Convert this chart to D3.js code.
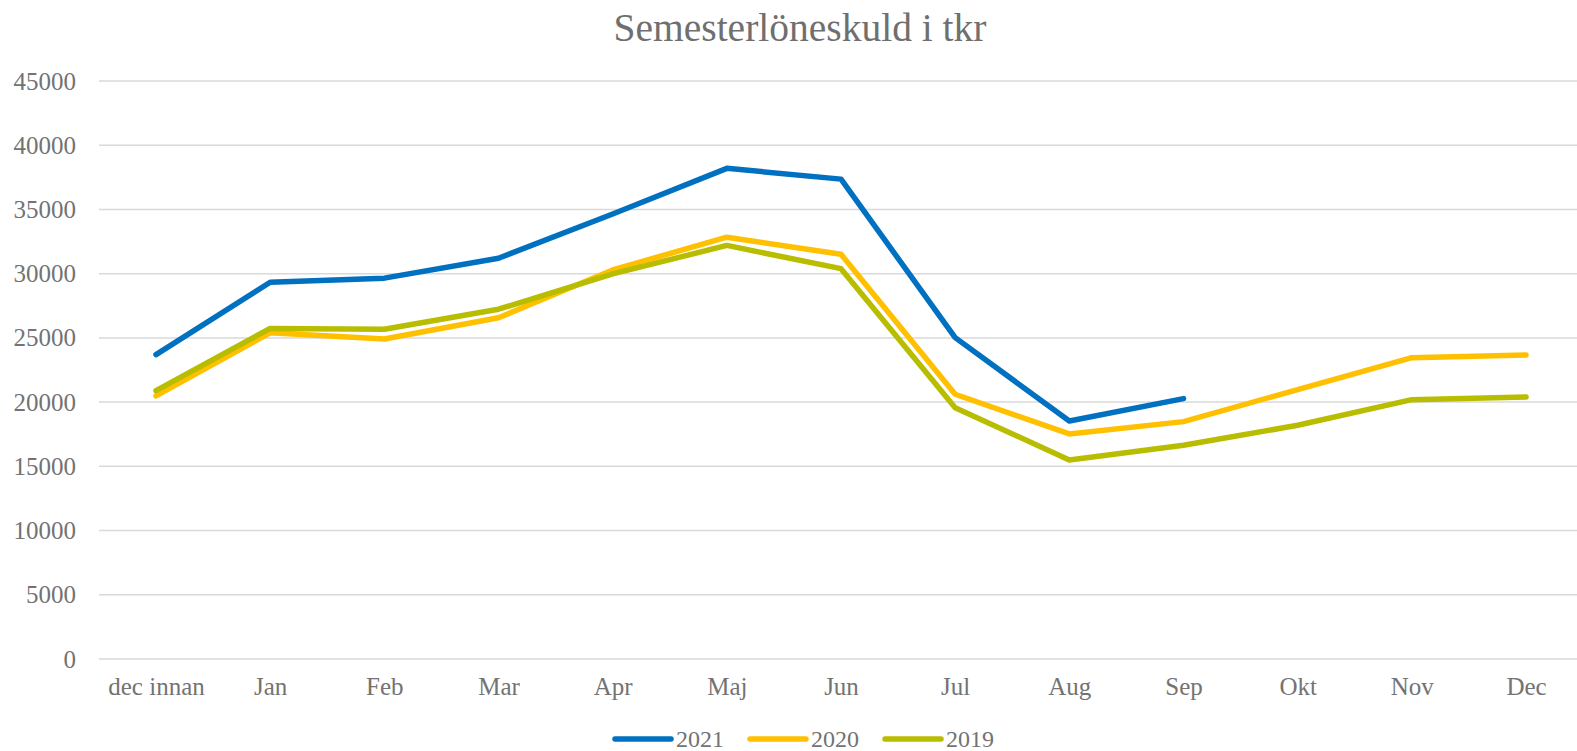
<!DOCTYPE html>
<html>
<head>
<meta charset="utf-8">
<script src="https://cdn.jsdelivr.net/npm/d3@7"></script>
<style>
  html, body { margin: 0; padding: 0; background: #fff; overflow: hidden; }
  svg { display: block; font-family: "Liberation Serif", "DejaVu Serif", serif; }
</style>
</head>
<body>
<svg id="chart"></svg>
<script>
const categories = ["dec innan", "Jan", "Feb", "Mar", "Apr", "Maj", "Jun", "Jul", "Aug", "Sep", "Okt", "Nov", "Dec"];
const values2021 = [23700, 29330, 29650, 31200, 34650, 38200, 37360, 25020, 18530, 20270, null, null, null];
const values2020 = [20480, 25400, 24910, 26570, 30290, 32840, 31510, 20610, 17520, 18480, 20980, 23460, 23670];
const values2019 = [20890, 25740, 25670, 27230, 29980, 32200, 30390, 19570, 15490, 16640, 18200, 20190, 20400];
const yTicks = [0, 5000, 10000, 15000, 20000, 25000, 30000, 35000, 40000, 45000];

const series = [
  { name: "2021", values: values2021, color: "#0070C0" },
  { name: "2020", values: values2020, color: "#FFC000" },
  { name: "2019", values: values2019, color: "#B8BD00" }
];

const width = 1577;
const height = 751;
const textColor = "#737373";

const svg = d3.select("#chart")
  .attr("width", width)
  .attr("height", height);

const x = d3.scalePoint()
  .domain(categories)
  .range([156, 1526]);

const y = d3.scaleLinear()
  .domain([0, 45000])
  .range([659, 81]);

// title
svg.append("text")
  .attr("x", 800)
  .attr("y", 41)
  .attr("text-anchor", "middle")
  .style("font-size", "39.5px")
  .style("fill", "#6f6f6f")
  .text("Semesterlöneskuld i tkr");

// gridlines
svg.append("g")
  .selectAll("line")
  .data(yTicks)
  .enter()
  .append("line")
  .attr("x1", 99)
  .attr("x2", width)
  .attr("y1", (d) => y(d))
  .attr("y2", (d) => y(d))
  .attr("stroke", "#d9d9d9")
  .attr("stroke-width", 1.5);

// y axis
const yAxis = svg.append("g")
  .attr("transform", "translate(99,0)")
  .call(d3.axisLeft(y).tickValues(yTicks).tickFormat(d3.format("d")).tickSize(0).tickPadding(23));
yAxis.select(".domain").remove();
yAxis.selectAll("text")
  .style("font-family", "Liberation Serif, serif")
  .style("font-size", "25px")
  .style("fill", textColor);

// x axis
const xAxis = svg.append("g")
  .attr("transform", "translate(0,659)")
  .call(d3.axisBottom(x).tickSize(0).tickPadding(18));
xAxis.select(".domain").remove();
xAxis.selectAll("text")
  .style("font-family", "Liberation Serif, serif")
  .style("font-size", "25px")
  .style("fill", textColor);

// lines
const line = d3.line()
  .defined((d) => d != null)
  .x((d, i) => x(categories[i]))
  .y((d) => y(d));

svg.append("g")
  .selectAll("path")
  .data(series)
  .enter()
  .append("path")
  .attr("d", (d) => line(d.values))
  .attr("fill", "none")
  .attr("stroke", (d) => d.color)
  .attr("stroke-width", 5.5)
  .attr("stroke-linecap", "round")
  .attr("stroke-linejoin", "round");

// legend
const legend = svg.append("g")
  .attr("transform", "translate(615,739)");

const item = legend.selectAll("g")
  .data(series)
  .enter()
  .append("g")
  .attr("transform", (d, i) => `translate(${i * 135},0)`);

item.append("line")
  .attr("x1", 0)
  .attr("x2", 56)
  .attr("stroke", (d) => d.color)
  .attr("stroke-width", 5.5)
  .attr("stroke-linecap", "round");

item.append("text")
  .attr("x", 61)
  .attr("y", 8)
  .style("font-size", "24px")
  .style("fill", textColor)
  .text((d) => d.name);
</script>
</body>
</html>
